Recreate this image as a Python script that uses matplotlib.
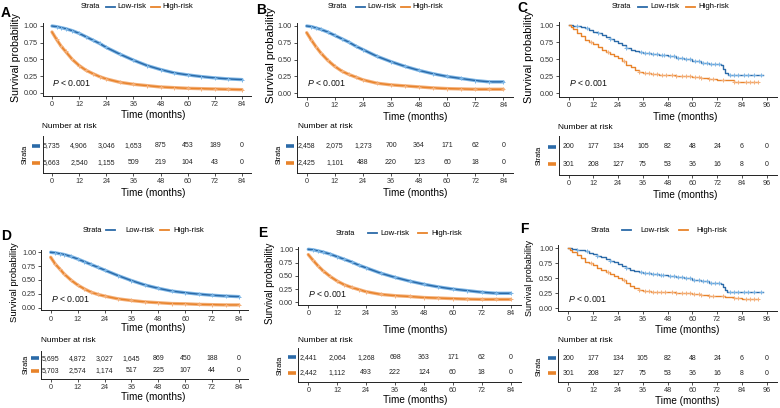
import numpy as np
import matplotlib.pyplot as plt
from matplotlib.lines import Line2D

W, H = 780, 408
BLUE = '#2b6aa8'
BLUE_LIGHT = '#7db6e6'
ORANGE = '#e8832a'
ORANGE_LIGHT = '#f4b07a'
FONT = ['Liberation Sans', 'DejaVu Sans']

plt.rcParams['font.family'] = FONT
plt.rcParams['mathtext.fontset'] = 'custom'
plt.rcParams['mathtext.it'] = 'Liberation Sans:italic'
plt.rcParams['mathtext.rm'] = 'Liberation Sans'

# ---- survival curves ----
TIME_84 = [0, 2, 4, 6, 9, 12, 15, 18, 21, 24, 30, 36, 42, 48, 54, 60, 66, 72, 78, 84]

A_LOW = [1.00, 0.99, 0.975, 0.96, 0.93, 0.89, 0.84, 0.79, 0.74, 0.68, 0.58, 0.49, 0.41, 0.35, 0.30, 0.27, 0.245, 0.225, 0.21, 0.20]
A_HIGH = [0.91, 0.80, 0.70, 0.62, 0.50, 0.41, 0.34, 0.29, 0.245, 0.21, 0.16, 0.13, 0.11, 0.09, 0.08, 0.07, 0.065, 0.06, 0.055, 0.05]
B_LOW = [1.00, 0.99, 0.97, 0.95, 0.91, 0.86, 0.81, 0.76, 0.70, 0.65, 0.55, 0.47, 0.40, 0.34, 0.29, 0.25, 0.22, 0.19, 0.17, 0.17]
B_HIGH = [0.90, 0.79, 0.69, 0.60, 0.49, 0.40, 0.33, 0.28, 0.24, 0.20, 0.15, 0.125, 0.11, 0.095, 0.08, 0.07, 0.065, 0.06, 0.06, 0.06]
D_LOW = [1.00, 0.99, 0.975, 0.96, 0.925, 0.88, 0.83, 0.78, 0.73, 0.68, 0.58, 0.49, 0.41, 0.35, 0.30, 0.27, 0.245, 0.225, 0.21, 0.20]
D_HIGH = [0.91, 0.79, 0.70, 0.61, 0.50, 0.41, 0.34, 0.28, 0.24, 0.21, 0.16, 0.13, 0.105, 0.09, 0.075, 0.07, 0.06, 0.055, 0.05, 0.05]
E_LOW = [1.00, 0.99, 0.97, 0.95, 0.91, 0.86, 0.81, 0.76, 0.70, 0.65, 0.55, 0.47, 0.40, 0.34, 0.29, 0.25, 0.22, 0.19, 0.17, 0.17]
E_HIGH = [0.90, 0.79, 0.69, 0.60, 0.49, 0.40, 0.33, 0.28, 0.24, 0.20, 0.15, 0.125, 0.11, 0.09, 0.08, 0.07, 0.06, 0.055, 0.055, 0.055]

# small cohort (panels C and F show the same data)
SMALL_LOW_T = [0, 2, 4, 6, 8, 10, 12, 14, 16, 18, 20, 22, 24, 26, 28, 30, 32, 34, 36, 40, 44, 48, 52, 56, 60, 64, 68, 72, 74, 75, 76, 77, 94]
SMALL_LOW_S = [1.00, 0.99, 0.98, 0.97, 0.95, 0.93, 0.90, 0.88, 0.85, 0.82, 0.79, 0.77, 0.74, 0.71, 0.67, 0.64, 0.62, 0.61, 0.59, 0.58, 0.56, 0.54, 0.52, 0.50, 0.47, 0.45, 0.43, 0.43, 0.41, 0.36, 0.30, 0.27, 0.27]
SMALL_HIGH_T = [0, 1, 2, 4, 6, 8, 10, 12, 14, 16, 18, 20, 22, 24, 26, 28, 30, 32, 34, 36, 40, 44, 48, 52, 56, 60, 64, 68, 72, 76, 80, 84, 92]
SMALL_HIGH_S = [1.00, 0.97, 0.94, 0.89, 0.84, 0.78, 0.75, 0.72, 0.68, 0.64, 0.60, 0.57, 0.54, 0.51, 0.47, 0.42, 0.38, 0.34, 0.31, 0.29, 0.28, 0.27, 0.27, 0.26, 0.25, 0.24, 0.23, 0.21, 0.20, 0.19, 0.17, 0.16, 0.16]
SMALL_LOW_CENSOR = [4, 9, 14, 20, 28, 35, 37, 39, 41, 43, 45, 46, 49, 51, 53, 55, 57, 59, 61, 63, 65, 67, 69, 71, 73, 78, 80, 82, 85, 87, 90, 93]
SMALL_HIGH_CENSOR = [11, 19, 27, 34, 37, 39, 41, 43, 45, 47, 50, 52, 55, 57, 59, 61, 63, 64, 68, 70, 75, 80, 82, 86, 88, 90, 92]

# ---- numbers at risk ----
RISK_T_84 = [0, 12, 24, 36, 48, 60, 72, 84]
RISK_T_96 = [0, 12, 24, 36, 48, 60, 72, 84, 96]
RISK_A_LOW = [5735, 4906, 3046, 1653, 875, 453, 189, 0]
RISK_A_HIGH = [5663, 2540, 1155, 509, 219, 104, 43, 0]
RISK_B_LOW = [2458, 2075, 1273, 700, 364, 171, 62, 0]
RISK_B_HIGH = [2425, 1101, 488, 220, 123, 60, 18, 0]
RISK_C_LOW = [200, 177, 134, 105, 82, 48, 24, 6, 0]
RISK_C_HIGH = [301, 208, 127, 75, 53, 36, 16, 8, 0]
RISK_D_LOW = [5695, 4872, 3027, 1645, 869, 450, 188, 0]
RISK_D_HIGH = [5703, 2574, 1174, 517, 225, 107, 44, 0]
RISK_E_LOW = [2441, 2064, 1268, 698, 363, 171, 62, 0]
RISK_E_HIGH = [2442, 1112, 493, 222, 124, 60, 18, 0]

fig = plt.figure(figsize=(W / 100, H / 100), dpi=100)


def ftext(x, y, s, **kw):
    fig.text(x / W, 1 - y / H, s, **kw)


def fline(x0, x1, y, color):
    fig.add_artist(Line2D([x0 / W, x1 / W], [1 - y / H] * 2, color=color, lw=1.3,
                          transform=fig.transFigure))


def rect(left, top, right, bottom):
    return [left / W, 1 - bottom / H, (right - left) / W, (bottom - top) / H]


def style_axis(ax, ticks):
    for side in ('top', 'right'):
        ax.spines[side].set_visible(False)
    for side in ('left', 'bottom'):
        ax.spines[side].set_linewidth(0.7)
        ax.spines[side].set_color('#222222')
    ax.set_xticks(ticks)
    ax.set_xticklabels([str(t) for t in ticks])
    ax.tick_params(length=2.2, width=0.6, pad=1.5, labelsize=5.2, colors='#333333')


def step_value(t, s, x):
    i = np.searchsorted(t, x, side='right') - 1
    return np.array(s)[i]


def draw_panel(p):
    x0, x1, ytop, ybot = p['plot']
    tmax = p['tmax']
    dx = 0.05 * (x1 - x0)
    dy = 0.05 * (ybot - ytop)
    ax = fig.add_axes(rect(x0 - dx, ytop - dy, x1 + dx, ybot + dy))
    ax.set_xlim(-0.05 * tmax, 1.05 * tmax)
    ax.set_ylim(-0.05, 1.05)
    ticks = list(range(0, tmax + 1, 12))
    style_axis(ax, ticks)
    ax.set_yticks([0, 0.25, 0.5, 0.75, 1.0])
    ax.set_yticklabels(['0.00', '0.25', '0.50', '0.75', '1.00'])

    for t, s, col, light, cens in p['curves']:
        if cens is None:
            ax.plot(t, s, color=light, lw=2.4, solid_capstyle='round', zorder=2)
            ax.plot(t, s, color=col, lw=1.0, zorder=3)
            ax.plot(t[1:], s[1:], '+', color=light, ms=3.0, mew=0.7, zorder=4)
        else:
            ax.plot(t, s, color=col, lw=1.0, drawstyle='steps-post', zorder=3)
            ax.plot(cens, step_value(t, s, cens), '+', color=light, ms=3.5, mew=0.7, zorder=4)

    ax.text(0, 0.15, r'$P$ < 0.001', fontsize=6.3, va='center', ha='left', color='#111111')

    # table
    rl, rh = p['rows']
    u = rh - rl
    tab = fig.add_axes(rect(x0 - dx, rl - 0.6 * u, x1 + dx, rh + 0.6 * u))
    tab.set_xlim(-0.05 * tmax, 1.05 * tmax)
    tab.set_ylim(0.4, 2.6)
    style_axis(tab, ticks)
    tab.set_yticks([])
    rt = p['risk_t']
    for ypos, vals, col in ((2, p['risk_low'], BLUE), (1, p['risk_high'], ORANGE)):
        for t, v in zip(rt, vals):
            tab.text(t, ypos, f'{v:,}', ha='center', va='center', fontsize=5.0, color='#222222')
        tab.plot([-0.03], [ypos], marker='_', ms=5.5, mew=2.6, color=col, clip_on=False,
                 transform=tab.get_yaxis_transform())

    # labels
    lx, ly = p['letter']
    ftext(lx, ly, p['name'], fontsize=10, fontweight='bold', ha='left', va='center')
    yl, yc, ysize = p['ylabel']
    ftext(yl, yc, 'Survival probability', rotation=90, fontsize=ysize, ha='center', va='center')
    sx, sy = p['strata']
    ftext(sx, sy, 'Strata', rotation=90, fontsize=5.2, ha='center', va='center')
    cx, y_a, y_b = p['xlabels']
    ftext(cx, y_a, 'Time (months)', fontsize=7.2, ha='center', va='center')
    ftext(cx, y_b, 'Time (months)', fontsize=7.2, ha='center', va='center')
    nx, ny = p['nar']
    ftext(nx, ny, 'Number at risk', fontsize=6.0, ha='left', va='center')

    # legend
    gy, g_strata, k1, t1, k2, t2 = p['legend']
    ftext(g_strata, gy, 'Strata', fontsize=5.3, ha='center', va='center')
    fline(k1, k1 + 9, gy, BLUE)
    ftext(t1, gy, 'Low-risk', fontsize=5.6, ha='left', va='center')
    fline(k2, k2 + 9, gy, ORANGE)
    ftext(t2, gy, 'High-risk', fontsize=5.6, ha='left', va='center')


big = lambda lo, hi: [(TIME_84, lo, BLUE, BLUE_LIGHT, None), (TIME_84, hi, ORANGE, ORANGE_LIGHT, None)]
small = [(SMALL_LOW_T, SMALL_LOW_S, BLUE, BLUE_LIGHT, SMALL_LOW_CENSOR),
         (SMALL_HIGH_T, SMALL_HIGH_S, ORANGE, ORANGE_LIGHT, SMALL_HIGH_CENSOR)]

panels = [
    dict(name='A', tmax=84, plot=(52, 242, 26, 93), rows=(145.7, 162.7), curves=big(A_LOW, A_HIGH),
         risk_t=RISK_T_84, risk_low=RISK_A_LOW, risk_high=RISK_A_HIGH,
         letter=(1, 13), ylabel=(16.5, 58, 7.6), strata=(25, 154), xlabels=(153, 115, 193), nar=(42, 127),
         legend=(7, 90, 106, 117, 151, 162.5)),
    dict(name='B', tmax=84, plot=(306.7, 503.3, 26, 93.3), rows=(145.7, 162.7), curves=big(B_LOW, B_HIGH),
         risk_t=RISK_T_84, risk_low=RISK_B_LOW, risk_high=RISK_B_HIGH,
         letter=(256, 10), ylabel=(271, 55, 8.2), strata=(279, 154), xlabels=(415, 116.7, 193.3), nar=(297.5, 126.7),
         legend=(6.5, 337.7, 356, 367, 401, 412.5)),
    dict(name='C', tmax=96, plot=(568.7, 766.7, 25, 93.3), rows=(146.7, 164.3), curves=small,
         risk_t=RISK_T_96, risk_low=RISK_C_LOW, risk_high=RISK_C_HIGH,
         letter=(517, 8), ylabel=(529, 57, 7.8), strata=(539, 155), xlabels=(685, 117, 195), nar=(558, 127.7),
         legend=(6.5, 621, 638, 650.5, 686, 698.5)),
    dict(name='D', tmax=84, plot=(50.7, 239, 252.3, 307.7), rows=(358.3, 371), curves=big(D_LOW, D_HIGH),
         risk_t=RISK_T_84, risk_low=RISK_D_LOW, risk_high=RISK_D_HIGH,
         letter=(1, 236), ylabel=(15, 282, 6.8), strata=(26, 364), xlabels=(153, 328.3, 396.7), nar=(41, 340.7),
         legend=(230, 92.5, 106, 125, 160, 173)),
    dict(name='E', tmax=84, plot=(308.3, 510.7, 249.3, 302.3), rows=(357.3, 372.7), curves=big(E_LOW, E_HIGH),
         risk_t=RISK_T_84, risk_low=RISK_E_LOW, risk_high=RISK_E_HIGH,
         letter=(258, 233), ylabel=(270, 283, 7.0), strata=(280, 365), xlabels=(415, 330, 400), nar=(298, 340),
         legend=(233.3, 345, 367.5, 380.5, 418, 431.5)),
    dict(name='F', tmax=96, plot=(568.3, 766.7, 248.3, 308.3), rows=(358.3, 373.3), curves=small,
         risk_t=RISK_T_96, risk_low=RISK_C_LOW, risk_high=RISK_C_HIGH,
         letter=(520, 229), ylabel=(530, 278, 6.5), strata=(539, 366), xlabels=(686.7, 330, 401), nar=(558, 340.7),
         legend=(230, 600, 622, 640, 679, 696.5)),
]

for p in panels:
    draw_panel(p)

fig.savefig('out.png', dpi=100)
